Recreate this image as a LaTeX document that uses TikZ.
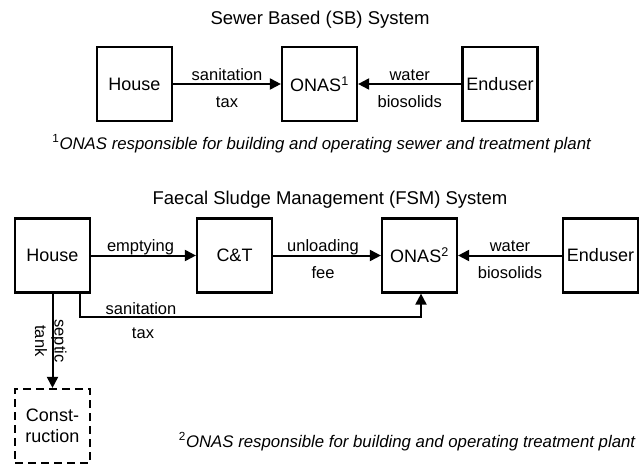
\documentclass[tikz,border=0pt]{standalone}
\usepackage{fontspec}
\setmainfont{Liberation Sans}
\usetikzlibrary{arrows.meta}
\begin{document}
\begin{tikzpicture}[x=1pt,y=-1pt,
  box/.style={draw,line width=2.2pt,minimum width=75pt,minimum height=74pt,inner sep=0pt,font=\fontsize{18}{21}\selectfont,align=center},
  dbox/.style={box,dash pattern=on 8pt off 5pt},
  conn/.style={line width=2pt,-{Triangle[length=11pt,width=11pt]}},
  lab/.style={font=\fontsize{16.5}{19}\selectfont,anchor=base,inner sep=0pt},
  ttl/.style={font=\fontsize{18.5}{22}\selectfont,anchor=base,inner sep=0pt},
  fn/.style={font=\fontsize{16.8}{20}\selectfont,anchor=base,inner sep=0pt}]
\useasboundingbox (0,0) rectangle (640,466);

% ---------- Sewer Based system ----------
\node[ttl] (t1) at (320,24) {Sewer Based (SB) System};
\node[box] (h1) at (134.5,84) {House};
\node[box] (o1) at (319.5,84) {ONAS\textsuperscript{1}};
\node[box] (e1) at (500,84) {Enduser};
\draw[conn] (h1) -- node[lab,yshift=4pt] (l1a) {sanitation} node[lab,yshift=-23pt] (l1b) {tax} (o1);
\draw[conn] (e1) -- node[lab,yshift=4pt] (l2a) {water} node[lab,yshift=-23pt] (l2b) {biosolids} (o1);
\node[fn] (f1) at (322,149) {\textsuperscript{1}\textit{ONAS responsible for building and operating sewer and treatment plant}};

% ---------- FSM system ----------
\node[ttl] (t2) at (330,204) {Faecal Sludge Management (FSM) System};
\node[box] (h2) at (52.5,255.5) {House};
\node[box] (c2) at (234.5,255.5) {C\&T};
\node[box] (o2) at (419.5,255.5) {ONAS\textsuperscript{2}};
\node[box] (e2) at (600.5,255.5) {Enduser};
\node[dbox] (con) at (52.5,426) {Const-\\ruction};

\draw[conn] (h2) -- node[lab,yshift=4pt,xshift=-3pt] (l3) {emptying} (c2);
\draw[conn] (c2) -- node[lab,yshift=4pt,xshift=-4pt] (l4a) {unloading} node[lab,yshift=-23pt,xshift=-4pt] (l4b) {fee} (o2);
\draw[conn] (e2) -- node[lab,yshift=4pt] (l5a) {water} node[lab,yshift=-23pt] (l5b) {biosolids} (o2);

\draw[conn] (h2) -- (con);
\node[lab,rotate=-90] (l6a) at (54.5,341) {septic};
\node[lab,rotate=-90] (l6b) at (35,341) {tank};

\coordinate (s1) at (80,317);
\coordinate (s2) at (421,317);
\draw[conn] (h2.south -| s1) -- (s1) -- (s2) -- (s2 |- o2.south);
\node[lab] (l7a) at (141,314) {sanitation};
\node[lab] (l7b) at (143,338) {tax};

\node[fn,anchor=base east] (f2) at (636,447) {\textsuperscript{2}\textit{ONAS responsible for building and operating treatment plant}};
\end{tikzpicture}
\end{document}
